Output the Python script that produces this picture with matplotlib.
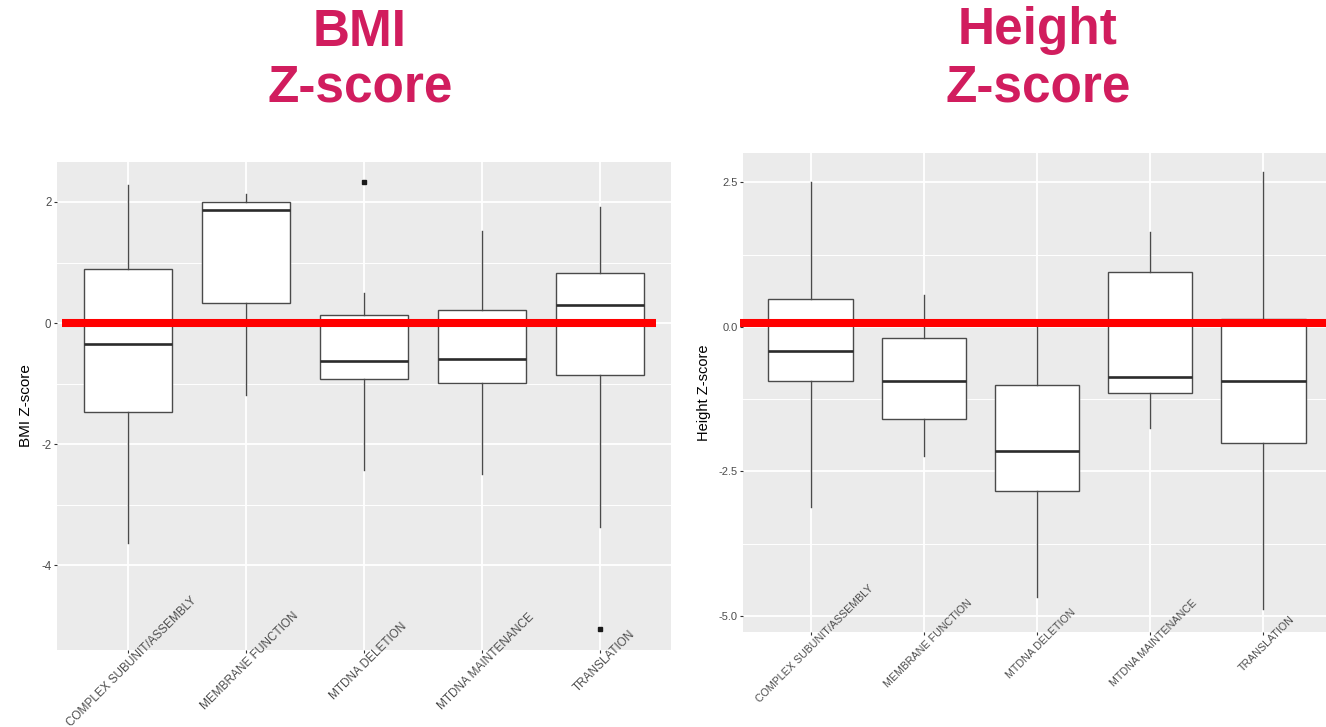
import matplotlib
matplotlib.use("Agg")
import matplotlib.pyplot as plt
from matplotlib.transforms import ScaledTranslation

plt.rcParams["font.family"] = ["Liberation Sans", "DejaVu Sans"]
plt.rcParams["axes.unicode_minus"] = False

categories = ["COMPLEX SUBUNIT/ASSEMBLY", "MEMBRANE FUNCTION", "MTDNA DELETION",
              "MTDNA MAINTENANCE", "TRANSLATION"]

# BMI Z-score summaries per group
bmi_whislo = [-3.64, -1.19, -2.43, -2.50, -3.37]
bmi_q1 = [-1.47, 0.33, -0.93, -0.99, -0.86]
bmi_med = [-0.35, 1.87, -0.62, -0.59, 0.30]
bmi_q3 = [0.89, 2.00, 0.13, 0.21, 0.83]
bmi_whishi = [2.28, 2.13, 0.50, 1.52, 1.92]
bmi_fliers = [[], [], [2.33], [], [-5.06]]
bmi_ticks = [2, 0, -2, -4]
bmi_minor = [1, -1, -3]

# Height Z-score summaries per group
ht_whislo = [-3.12, -2.23, -4.68, -1.75, -4.88]
ht_q1 = [-0.93, -1.59, -2.84, -1.14, -2.01]
ht_med = [-0.42, -0.93, -2.15, -0.87, -0.93]
ht_q3 = [0.48, -0.19, -1.00, 0.95, 0.14]
ht_whishi = [2.51, 0.55, 0.00, 1.64, 2.68]
ht_fliers = [[], [], [], [], []]
ht_ticks = [2.5, 0.0, -2.5, -5.0]
ht_minor = [1.25, -1.25, -3.75]

TITLE_COLOR = "#D11D5E"
W, H = 1326, 727
fig = plt.figure(figsize=(W / 100, H / 100), dpi=100)


def px_axes(x0, y0, x1, y1):
    return fig.add_axes([x0 / W, 1 - y1 / H, (x1 - x0) / W, (y1 - y0) / H])


def draw_panel(ax, whislo, q1, med, q3, whishi, fliers, ticks, minor, fmt,
               ylim, ylabel, tick_fs, label_fs, xlab_fs, ref_y, ref_x):
    ax.set_facecolor("#EBEBEB")
    for s in ax.spines.values():
        s.set_visible(False)
    pos = list(range(1, len(categories) + 1))
    ax.set_xlim(0.4, 5.6)
    ax.set_ylim(*ylim)
    # grid
    for p in pos:
        ax.axvline(p, color="white", lw=1.3, zorder=0)
    for t in ticks:
        ax.axhline(t, color="white", lw=1.3, zorder=0)
    for t in minor:
        ax.axhline(t, color="white", lw=0.7, zorder=0)

    stats = []
    for i in range(len(categories)):
        stats.append(dict(whislo=whislo[i], q1=q1[i], med=med[i], q3=q3[i],
                          whishi=whishi[i], fliers=fliers[i]))
    ax.bxp(stats, positions=pos, widths=0.75, showcaps=False, patch_artist=True,
           boxprops=dict(facecolor="white", edgecolor="#4a4a4a", linewidth=1.0),
           whiskerprops=dict(color="#4a4a4a", linewidth=1.0),
           medianprops=dict(color="#2b2b2b", linewidth=1.9),
           flierprops=dict(marker="s", markersize=2.6, markerfacecolor="#1a1a1a",
                           markeredgecolor="#1a1a1a"),
           zorder=2)

    # reference line at zero
    ax.plot(ref_x, [ref_y, ref_y], color="#FF0000", lw=5.8, solid_capstyle="butt",
            clip_on=False, zorder=5)

    ax.set_yticks(ticks)
    ax.set_yticklabels([fmt.format(t) for t in ticks])
    ax.tick_params(axis="y", length=2.5, width=0.8, color="#333333",
                   labelcolor="#4D4D4D", labelsize=tick_fs, pad=1.5)
    ax.set_xticks(pos)
    ax.set_xticklabels(categories, rotation=45, ha="center", va="center",
                       rotation_mode="anchor")
    ax.tick_params(axis="x", length=2.5, width=0.8, color="#333333",
                   labelcolor="#4D4D4D", labelsize=xlab_fs, pad=5.8)
    shift = ScaledTranslation(4 / 100, 0, fig.dpi_scale_trans)
    for lab in ax.get_xticklabels():
        lab.set_transform(lab.get_transform() + shift)
    ax.set_ylabel(ylabel, fontsize=label_fs, color="black")
    ax.yaxis.label.set_va("center")


# BMI panel
ax1 = px_axes(57, 162, 671, 650)
draw_panel(ax1, bmi_whislo, bmi_q1, bmi_med, bmi_q3, bmi_whishi, bmi_fliers,
           bmi_ticks, bmi_minor, "{:g}", (-5.40, 2.66), "BMI Z-score",
           8.3, 11, 8.5, 0.0, [0.44, 5.47])
ax1.yaxis.set_label_coords((26 - 57) / 614, 0.5)

# Height panel (runs slightly past the right edge of the figure)
ax2 = px_axes(743, 153, 1331, 632)
draw_panel(ax2, ht_whislo, ht_q1, ht_med, ht_q3, ht_whishi, ht_fliers,
           ht_ticks, ht_minor, "{:.1f}", (-5.28, 3.01), "Height Z-score",
           8.0, 10.5, 7.7, 0.07, [0.37, 5.75])
ax2.yaxis.set_label_coords((704 - 743) / 588, 0.5)

# titles
for x, y, s in [(360, 46, "BMI"), (360, 102, "Z-score"),
                (1038, 44, "Height"), (1038, 102, "Z-score")]:
    fig.text(x / W, 1 - y / H, s, ha="center", va="baseline", fontsize=37,
             fontweight="bold", color=TITLE_COLOR)

fig.savefig("out.png", dpi=100, facecolor="white")
